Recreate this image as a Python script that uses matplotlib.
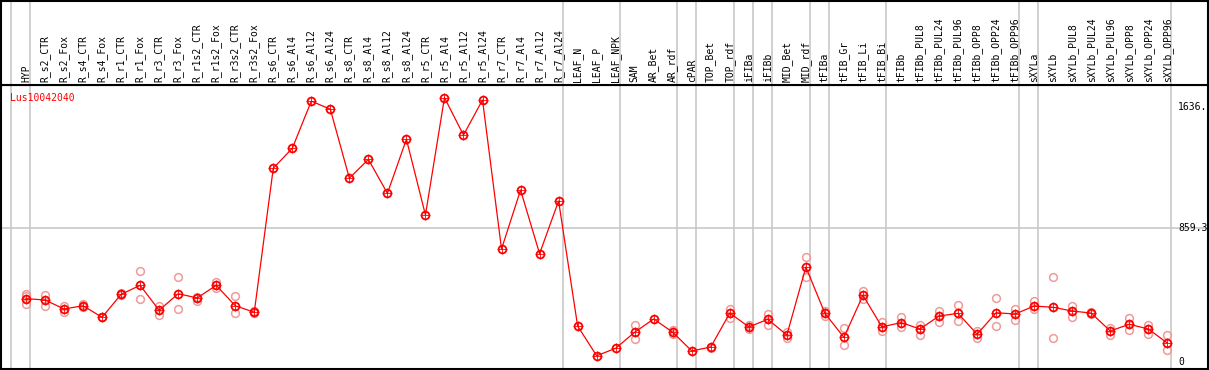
import numpy as np
import matplotlib.pyplot as plt
import matplotlib.transforms as mtransforms

gene = "Lus10042040"

samples = [
    "HYP", "R_s2_CTR", "R_s2_Fox", "R_s4_CTR", "R_s4_Fox", "R_r1_CTR", "R_r1_Fox",
    "R_r3_CTR", "R_r3_Fox", "R_r1s2_CTR", "R_r1s2_Fox", "R_r3s2_CTR", "R_r3s2_Fox",
    "R_s6_CTR", "R_s6_Al4", "R_s6_Al12", "R_s6_Al24", "R_s8_CTR", "R_s8_Al4",
    "R_s8_Al12", "R_s8_Al24", "R_r5_CTR", "R_r5_Al4", "R_r5_Al12", "R_r5_Al24",
    "R_r7_CTR", "R_r7_Al4", "R_r7_Al12", "R_r7_Al24", "LEAF_N", "LEAF_P", "LEAF_NPK",
    "SAM", "AR_Bet", "AR_rdf", "cPAR", "TOP_Bet", "TOP_rdf", "iFIBa", "iFIBb",
    "MID_Bet", "MID_rdf", "tFIBa", "tFIB_Gr", "tFIB_Li", "tFIB_Bi", "tFIBb",
    "tFIBb_PUL8", "tFIBb_PUL24", "tFIBb_PUL96", "tFIBb_OPP8", "tFIBb_OPP24",
    "tFIBb_OPP96", "sXYLa", "sXYLb", "sXYLb_PUL8", "sXYLb_PUL24", "sXYLb_PUL96",
    "sXYLb_OPP8", "sXYLb_OPP24", "sXYLb_OPP96",
]

# number of samples in each tissue group (separated by grey lines)
group_sizes = [1, 28, 3, 3, 1, 2, 1, 1, 2, 1, 3, 7, 1, 7]

means = [
    406, 398, 340, 361, 287, 434, 492, 332, 438, 411, 492, 361, 319,
    1243, 1371, 1674, 1621, 1179, 1300, 1082, 1429, 943, 1696, 1456, 1681,
    725, 1103, 695, 1033, 231, 40, 88, 191, 276, 191, 71, 96, 314, 225, 274,
    173, 609, 312, 158, 428, 225, 253, 212, 295, 312, 178, 316, 308, 359, 351,
    327, 314, 199, 242, 212, 122,
]

replicates = [
    [436, 423, 372], [430, 359], [359, 319], [372, 353], [289], [443, 430],
    [582, 402], [359, 302], [543, 338], [419, 391], [515, 473], [421, 312],
    [329, 312],
    [], [], [], [], [], [], [], [], [], [], [], [], [], [], [], [],
    [], [], [],
    [235, 146], [], [205, 180], [], [90], [342, 280], [239, 214], [308, 235],
    [191, 156], [674, 543], [329, 297], [216, 107], [457, 404], [257, 199],
    [291, 226], [235, 173], [327, 255], [364, 263], [201, 156], [409, 229],
    [340, 271], [393, 340], [543, 154], [361, 291], [321, 308], [218, 173],
    [282, 207], [239, 180], [171, 75],
]

ytick_values = [1636, 859.3, 0]
ytick_labels = ["1636.", "859.3", "0"]

W, H = 1209, 370
fig = plt.figure(figsize=(W / 100, H / 100), dpi=100)
ax = fig.add_axes([1 / W, 1 / H, 1207 / W, 284 / H])
hdr = fig.add_axes([1 / W, 285 / H, 1207 / W, 84.5 / H])

x = np.arange(len(samples))
xlim = (-1.314, 62.14)
grey = "#c8c8c8"
mono = "DejaVu Sans Mono"

bounds = np.concatenate([[-1], np.cumsum(group_sizes) - 1]) + 0.21
for a in (ax, hdr):
    a.set_xlim(*xlim)
    a.set_xticks([])
    a.set_yticks([])
    for b in bounds:
        a.axvline(b, color=grey, lw=1.2, zorder=0)
    for s in a.spines.values():
        s.set_linewidth(1.5)
        s.set_color("black")

hdr.set_ylim(0, 1)
trans = mtransforms.offset_copy(hdr.transData, fig=fig, x=0, y=3, units="dots")
for i, name in enumerate(samples):
    hdr.text(i, 0, name, rotation=90, ha="center", va="bottom",
             fontsize=7, family=mono, transform=trans)

ax.set_ylim(-44.9, 1777)
ax.axhline(859.3, color=grey, lw=1.2, zorder=0)

rx = [i for i, r in enumerate(replicates) for _ in r]
ry = [v for r in replicates for v in r]
ax.plot(rx, ry, "o", ms=5.6, mfc="none", mec="#ee9a9a", mew=1.1, zorder=2)

ax.plot(x, means, "-", color="red", lw=0.9, zorder=3)
ax.plot(x, means, "+", ms=7.5, color="red", mew=0.6, zorder=4)
ax.plot(x, means, "o", ms=5.6, mfc="none", mec="red", mew=1.3, zorder=5)

ax.text(-0.84, 1696, gene, color="red", fontsize=7, family=mono,
        ha="left", va="center")
for v, lab in zip(ytick_values, ytick_labels):
    ax.text(60.57, v, lab, fontsize=7, family=mono, ha="left", va="center")

fig.savefig("out.png", dpi=100)
